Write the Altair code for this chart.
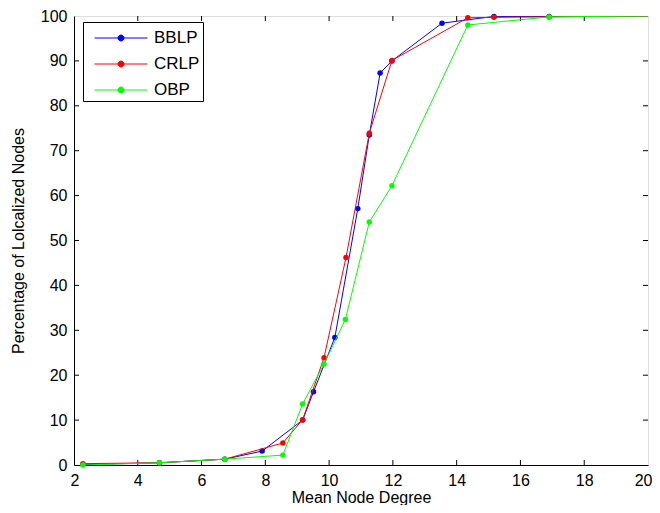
import altair as alt
import pandas as pd

series = ["BBLP", "CRLP", "OBP"]
colors = ["#0000ff", "#ff0000", "#00ff00"]

bblp_x = [2.28, 4.68, 6.73, 7.9, 9.17, 9.51, 10.18, 10.9, 11.26, 11.6, 11.97, 13.54, 15.17, 16.9, 20]
bblp_y = [0.1, 0.5, 1.3, 3.1, 10.0, 16.3, 28.4, 57.1, 73.5, 87.3, 90.0, 98.4, 99.9, 99.9, 100]

crlp_x = [2.28, 4.68, 6.73, 8.55, 9.17, 9.84, 10.53, 11.26, 11.97, 14.35, 15.17, 16.9, 20]
crlp_y = [0.3, 0.5, 1.3, 4.9, 10.1, 23.9, 46.2, 73.9, 90.1, 99.6, 99.7, 99.8, 100]

obp_x = [2.28, 4.68, 6.73, 8.55, 9.17, 9.84, 10.51, 11.26, 11.97, 14.35, 16.9, 20]
obp_y = [0.0, 0.5, 1.3, 2.2, 13.6, 22.5, 32.4, 54.1, 62.2, 98.0, 99.8, 100]

x_ticks = list(range(2, 21, 2))
y_ticks = list(range(0, 101, 10))

rows = []
for name, xs_, ys_ in [("BBLP", bblp_x, bblp_y), ("CRLP", crlp_x, crlp_y), ("OBP", obp_x, obp_y)]:
    for i, (a, b) in enumerate(zip(xs_, ys_)):
        rows.append({"series": name, "x": a, "y": b, "i": i, "marker": a < 20})
df = pd.DataFrame(rows)

W, H = 574, 449
FONT = "Liberation Sans"

xs = alt.Scale(domain=[2, 20], nice=False)
ys = alt.Scale(domain=[0, 100], nice=False)
cs = alt.Scale(domain=series, range=colors)

sym = "M-2.12,0H2.12M-0.24,0a0.24,0.24 0 1,0 0.48,0a0.24,0.24 0 1,0 -0.48,0"
legend = alt.Legend(
    title=None, orient="none", legendX=9, legendY=6,
    symbolType=sym, symbolSize=625, symbolStrokeWidth=1, symbolOffset=22,
    labelFont=FONT, labelFontSize=17, labelColor="black", labelOffset=20,
    strokeColor="black", fillColor="white", padding=3, rowPadding=5,
    labelLimit=200,
)

xaxis = alt.Axis(values=x_ticks, tickSize=0, labelPadding=7, domainColor="black",
                 labelFont=FONT, labelFontSize=16, labelColor="black", grid=False,
                 labelFlush=True, labelFlushOffset=4,
                 title="Mean Node Degree", titleFont=FONT, titleFontSize=16,
                 titleFontWeight="normal", titleColor="black", titlePadding=1)
yaxis = alt.Axis(values=y_ticks, tickSize=0, labelPadding=7, domainColor="black",
                 labelFont=FONT, labelFontSize=16, labelColor="black", grid=False,
                 title="Percentage of Lolcalized Nodes", titleFont=FONT, titleFontSize=16,
                 titleFontWeight="normal", titleColor="black", titlePadding=14)

layers = []
for s in series:
    base = alt.Chart(df).transform_filter(alt.datum.series == s)
    line = base.mark_line(strokeWidth=1, clip=True).encode(
        x=alt.X("x:Q", scale=xs, axis=xaxis),
        y=alt.Y("y:Q", scale=ys, axis=yaxis),
        color=alt.Color("series:N", scale=cs, legend=legend),
        order="i:Q",
    )
    pts = base.transform_filter(alt.datum.marker).mark_point(filled=True, size=30, opacity=1, shape="circle").encode(
        x=alt.X("x:Q", scale=xs),
        y=alt.Y("y:Q", scale=ys),
        color=alt.Color("series:N", scale=cs, legend=legend),
    )
    layers += [line, pts]

xt = pd.DataFrame({"t": x_ticks[1:-1]})
yt = pd.DataFrame({"t": y_ticks[1:-1]})
tick_bottom = alt.Chart(xt).mark_rule(color="black", strokeWidth=1).encode(
    x=alt.X("t:Q", scale=xs), y=alt.value(H - 5), y2=alt.value(H))
tick_top = alt.Chart(xt).mark_rule(color="black", strokeWidth=1).encode(
    x=alt.X("t:Q", scale=xs), y=alt.value(0), y2=alt.value(5))
tick_left = alt.Chart(yt).mark_rule(color="black", strokeWidth=1).encode(
    y=alt.Y("t:Q", scale=ys), x=alt.value(0), x2=alt.value(5))
tick_right = alt.Chart(yt).mark_rule(color="black", strokeWidth=1).encode(
    y=alt.Y("t:Q", scale=ys), x=alt.value(W - 5), x2=alt.value(W))

chart = alt.layer(tick_bottom, tick_top, tick_left, tick_right, *layers).properties(
    width=W, height=H,
    autosize=alt.AutoSizeParams(type="none"),
    padding={"left": 66, "top": 8, "right": 4, "bottom": 40},
).configure_view(stroke="black", strokeWidth=1).configure(background="white")

chart.save("out.html", embed_options={"renderer": "svg", "actions": False})
